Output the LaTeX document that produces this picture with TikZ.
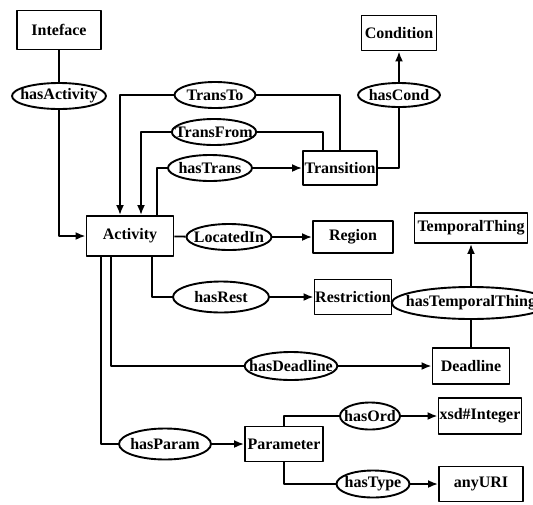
\documentclass[tikz,border=0pt]{standalone}
\usepackage{fontspec}
\setmainfont{Liberation Serif}
\usetikzlibrary{shapes.geometric,arrows.meta}
\begin{document}
\begin{tikzpicture}[x=1pt,y=-1pt, font=\bfseries\fontsize{16}{18}\selectfont, line width=1.9pt, line join=round, >={Latex[length=10pt,width=8pt]},
	cls/.style={draw, rectangle, inner sep=0pt, minimum height=35},
	prop/.style={draw, ellipse, inner xsep=-9pt, inner ysep=-5pt, minimum height=26}]
	\useasboundingbox (0,0) rectangle (533,504);
	\path
	(59,30) node[cls, minimum width=84, minimum height=39] (inteface) {Inteface}
	(59,96) node[prop, minimum width=94] (hasActivity) {hasActivity}
	(130,236) node[cls, minimum width=87, minimum height=40] (activity) {Activity}
	(215,95) node[prop, minimum width=81] (transTo) {TransTo}
	(214,132) node[prop, minimum width=81] (transFrom) {TransFrom}
	(210,168) node[prop, minimum width=84] (hasTrans) {hasTrans}
	(340,168) node[cls, minimum width=74, minimum height=34] (transition) {Transition}
	(399,95) node[prop, minimum width=82, minimum height=24] (hasCond) {hasCond}
	(399,33) node[cls, minimum width=75] (condition) {Condition}
	(229,237) node[prop, minimum width=85] (locatedIn) {LocatedIn}
	(353,237) node[cls, minimum width=80, minimum height=32] (region) {Region}
	(471,228) node[cls, minimum width=113, minimum height=30] (temporalThing) {TemporalThing}
	(221,297) node[prop, minimum width=96, minimum height=31] (hasRest) {hasRest}
	(353,297) node[cls, minimum width=77] (restriction) {Restriction}
	(471,303) node[prop, minimum width=142, minimum height=32] (hasTemporalThing) {hasTemporalThing}
	(291,366) node[prop, minimum width=92, minimum height=28] (hasDeadline) {hasDeadline}
	(471,366) node[cls, minimum width=77, minimum height=36] (deadline) {Deadline}
	(165,444) node[prop, minimum width=92, minimum height=31] (hasParam) {hasParam}
	(284,444) node[cls, minimum width=78] (parameter) {Parameter}
	(370,416) node[prop, minimum width=60, minimum height=27] (hasOrd) {hasOrd}
	(480,416) node[cls, minimum width=83, minimum height=36] (xsdInteger) {xsd\#Integer}
	(373,484) node[prop, minimum width=73, minimum height=27] (hasType) {hasType}
	(481,484) node[cls, minimum width=84] (anyURI) {anyURI};
	% interface and transitions
	\draw (inteface) -- (hasActivity);
	\draw[->] (hasActivity) |- (activity);
	\draw[->] (transTo) -| ([xshift=-10]activity.north);
	\draw (transTo) -| (transition.north);
	\draw[->] (transFrom) -| ([xshift=11]activity.north);
	\draw (transFrom) -| ([xshift=-17]transition.north);
	\draw ([xshift=27]activity.north) |- (hasTrans);
	\draw[->] (hasTrans) -- (transition);
	\draw (transition) -| (hasCond);
	\draw[->] (hasCond) -- (condition);
	% properties of the activity
	\draw (activity) -- (locatedIn);
	\draw[->] (locatedIn) -- (region);
	\draw ([xshift=22]activity.south) |- (hasRest);
	\draw[->] (hasRest) -- (restriction);
	\draw ([xshift=-19]activity.south) |- (hasDeadline);
	\draw[->] (hasDeadline) -- (deadline);
	\draw (deadline) -- (hasTemporalThing);
	\draw[->] (hasTemporalThing) -- (temporalThing);
	\draw ([xshift=-29]activity.south) |- (hasParam);
	\draw[->] (hasParam) -- (parameter);
	\draw (parameter.north) |- (hasOrd);
	\draw[->] (hasOrd) -- (xsdInteger);
	\draw (parameter.south) |- (hasType);
	\draw[->] (hasType) -- (anyURI);
\end{tikzpicture}
\end{document}
